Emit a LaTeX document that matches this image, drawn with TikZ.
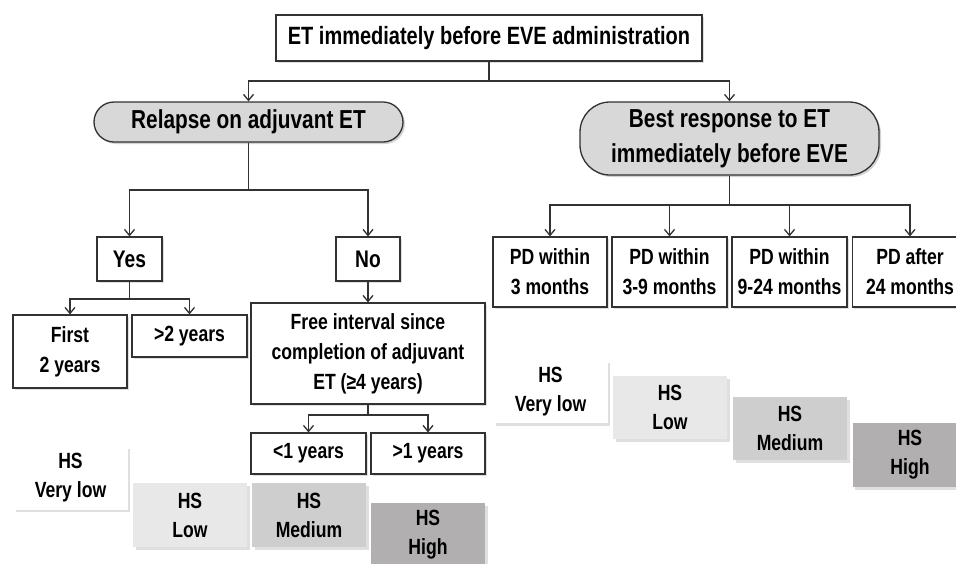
\documentclass[tikz,border=0pt]{standalone}
\usepackage{fontspec}
\setmainfont{Liberation Sans}[FakeStretch=0.8]
\definecolor{boxgray}{RGB}{216,216,216}
\definecolor{lowgray}{RGB}{232,232,232}
\definecolor{medgray}{RGB}{207,206,206}
\definecolor{highgray}{RGB}{177,175,175}
\definecolor{linegray}{RGB}{50,50,50}
\usetikzlibrary{positioning,shapes,arrows.meta,shadows}

\begin{document}
\begin{tikzpicture}[x=1pt,y=-1pt,
    question/.style={rectangle,draw=linegray,line width=1.3pt,fill=boxgray,align=center,inner sep=0pt,font=\bfseries\fontsize{26}{35}\selectfont,drop shadow={shadow xshift=2pt,shadow yshift=-2pt,opacity=0.35}},
    answer/.style={rectangle,draw=linegray,line width=1.2pt,fill=white,align=center,inner sep=0pt,font=\bfseries\fontsize{22}{30}\selectfont,drop shadow={shadow xshift=1.5pt,shadow yshift=-1.5pt,opacity=0.25}},
    score/.style={rectangle,align=center,inner sep=0pt,minimum width=114pt,minimum height=63pt,font=\bfseries\fontsize{22}{29}\selectfont,drop shadow={shadow xshift=2.5pt,shadow yshift=-2.5pt,opacity=0.25}},
    link/.style={draw=linegray,line width=1.3pt},
    flow/.style={link,-{Straight Barb[length=6pt,width=10pt,line width=1.3pt]}}
]
    \useasboundingbox[fill=white] (0,0) rectangle (956,563);

    \node[answer,minimum width=426pt,minimum height=46pt,font=\bfseries\fontsize{25}{30}\selectfont] (top) at (489,38) {ET immediately before EVE administration};

    \node[question,rounded corners=20pt,minimum width=309pt,minimum height=40pt] (relapse) at (248.5,122) {Relapse on adjuvant ET};
    \node[question,rounded corners=30pt,minimum width=299pt,minimum height=73pt] (best) at (729.5,138.5) {Best response to ET\\immediately before EVE};

    \node[answer,minimum width=65pt,minimum height=44pt,font=\bfseries\fontsize{24}{30}\selectfont] (yes) at (129.5,259) {Yes};
    \node[answer,minimum width=64pt,minimum height=44pt,font=\bfseries\fontsize{24}{30}\selectfont] (no) at (368,259) {No};

    \node[answer,minimum width=114pt,minimum height=73pt] (first) at (70,351.5) {First\\2 years};
    \node[answer,minimum width=115pt,minimum height=42pt] (after2) at (189.5,336) {>2 years};
    \node[answer,minimum width=234pt,minimum height=101pt] (free) at (368,353.5) {Free interval since\\completion of adjuvant\\ET (≥4 years)};
    \node[answer,minimum width=115pt,minimum height=41pt] (under1) at (308.5,453.5) {<1 years};
    \node[answer,minimum width=114pt,minimum height=41pt] (over1) at (428,453.5) {>1 years};

    \node[answer,minimum width=114pt,minimum height=70pt] (pd1) at (550,272) {PD within\\3 months};
    \node[answer,minimum width=115pt,minimum height=70pt] (pd2) at (669.5,272) {PD within\\3-9 months};
    \node[answer,minimum width=115pt,minimum height=70pt] (pd3) at (789.5,272) {PD within\\9-24 months};
    \node[answer,minimum width=115pt,minimum height=70pt] (pd4) at (910,272) {PD after\\24 months};

    \node[score,fill=white] (lvlow) at (70.5,478) {HS\\Very low};
    \node[score,fill=lowgray,minimum height=64pt] (llow) at (190,515) {HS\\Low};
    \node[score,fill=medgray,minimum height=64pt] (lmed) at (309,515) {HS\\Medium};
    \node[score,fill=highgray,minimum height=64pt] (lhigh) at (428,535) {HS\\High};

    \node[score,fill=white] (rvlow) at (550.5,391.5) {HS\\Very low};
    \node[score,fill=lowgray] (rlow) at (670,407.5) {HS\\Low};
    \node[score,fill=medgray] (rmed) at (790,428.5) {HS\\Medium};
    \node[score,fill=highgray,minimum width=115pt,minimum height=64pt] (rhigh) at (910,455) {HS\\High};

    \coordinate (topsplit) at (489,81);
    \draw[link] (top.south) -- (topsplit);
    \draw[flow] (topsplit) -| (relapse.north);
    \draw[flow] (topsplit) -| (best.north);

    \coordinate (relsplit) at (248.5,190);
    \draw[link] (relapse.south) -- (relsplit);
    \draw[flow] (relsplit) -| (yes.north);
    \draw[flow] (relsplit) -| (no.north);

    \coordinate (yessplit) at (129.5,299);
    \draw[link] (yes.south) -- (yessplit);
    \draw[flow] (yessplit) -| (first.north);
    \draw[flow] (yessplit) -| (after2.north);

    \draw[flow] (no.south) -- (free.north);

    \coordinate (freesplit) at (368,415);
    \draw[link] (free.south) -- (freesplit);
    \draw[flow] (freesplit) -| (under1.north);
    \draw[flow] (freesplit) -| (over1.north);

    \coordinate (bestsplit) at (729.5,205);
    \draw[link] (best.south) -- (bestsplit);
    \foreach \n in {pd1,pd2,pd3,pd4}
        \draw[flow] (bestsplit) -| (\n.north);
\end{tikzpicture}
\end{document}
